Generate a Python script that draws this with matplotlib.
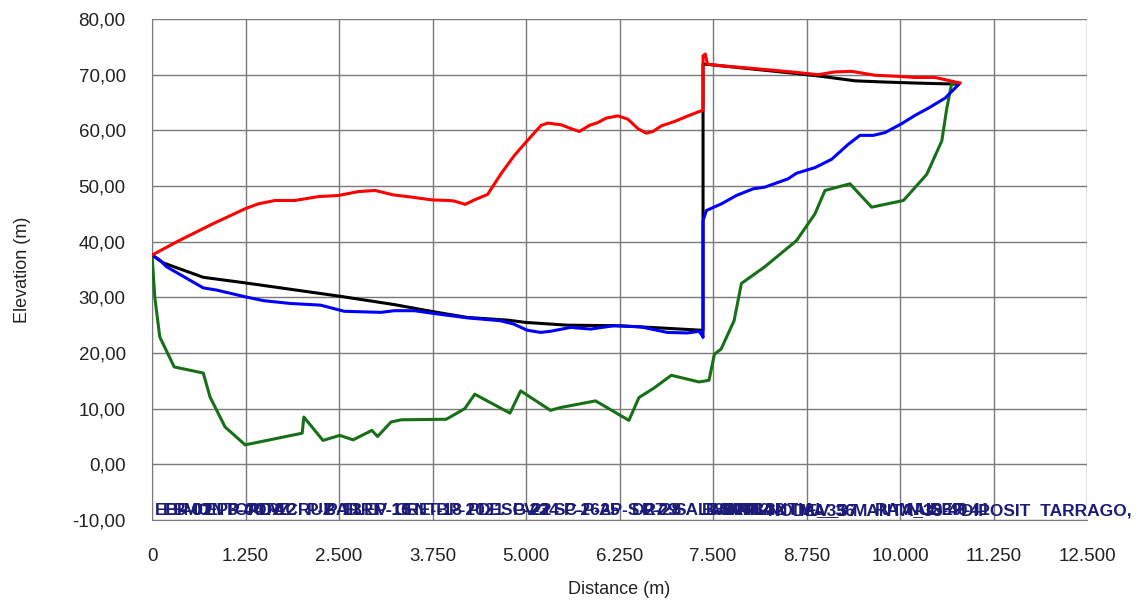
import numpy as np
import matplotlib.pyplot as plt
from matplotlib.ticker import FuncFormatter

plt.rcParams['font.family'] = ['Liberation Sans', 'DejaVu Sans']

# piezometric line (red)
red_d = [0, 348, 795, 1241, 1420, 1643, 1911, 2223, 2491, 2759, 2982, 3227, 3473,
         3741, 3964, 4040, 4187, 4308, 4487, 4665, 4844, 5000, 5201, 5290, 5469,
         5603, 5714, 5848, 5960, 6071, 6228, 6362, 6496, 6607, 6697, 6808, 6987,
         7165, 7299, 7366, 7366, 7397, 7424, 7612, 7969, 8549, 8906, 9129, 9353,
         9531, 9665, 9978, 10201, 10469, 10803]
red_z = [37.6, 40.1, 43.1, 45.9, 46.8, 47.4, 47.4, 48.1, 48.3, 49.0, 49.2, 48.4, 48.0,
         47.5, 47.4, 47.3, 46.7, 47.5, 48.5, 52.2, 55.5, 57.9, 60.9, 61.3, 61.0,
         60.3, 59.8, 60.9, 61.4, 62.2, 62.6, 62.0, 60.3, 59.5, 59.8, 60.8, 61.6,
         62.6, 63.3, 63.6, 73.4, 73.7, 71.9, 71.6, 71.2, 70.5, 70.0, 70.5, 70.6,
         70.2, 69.9, 69.7, 69.5, 69.5, 68.5]

# pipe (black)
blk_d = [0, 148, 685, 1245, 2509, 3239, 3768, 4210, 4762, 4991, 5549, 6241, 6799,
         7335, 7366, 7366, 7388, 7969, 8549, 8951, 9397, 9754, 10201, 10781]
blk_z = [37.6, 36.2, 33.6, 32.6, 30.2, 28.7, 27.4, 26.4, 25.9, 25.5, 25.0, 24.9, 24.5,
         24.1, 24.1, 71.9, 71.9, 71.1, 70.3, 69.7, 68.9, 68.7, 68.5, 68.3]

# hydraulic grade (blue)
blu_d = [0, 103, 193, 685, 865, 1245, 1492, 1850, 2253, 2567, 3060, 3239, 3508,
         3768, 4225, 4656, 4835, 5013, 5192, 5326, 5594, 5862, 6174, 6531, 6888,
         7156, 7312, 7357, 7366, 7366, 7411, 7612, 7812, 8036, 8192, 8504, 8616,
         8862, 9085, 9308, 9464, 9643, 9799, 10022, 10201, 10380, 10603, 10781]
blu_z = [37.6, 36.7, 35.5, 31.7, 31.3, 30.1, 29.4, 28.9, 28.6, 27.5, 27.3, 27.6, 27.6,
         27.1, 26.3, 25.8, 25.2, 24.1, 23.7, 23.9, 24.6, 24.3, 24.9, 24.7, 23.7,
         23.6, 23.9, 23.1, 22.8, 43.8, 45.6, 46.8, 48.3, 49.5, 49.8, 51.3, 52.3,
         53.3, 54.8, 57.5, 59.1, 59.1, 59.6, 61.2, 62.7, 64.0, 65.8, 68.2]

# terrain (green)
grn_d = [0, 36, 103, 296, 685, 775, 977, 1245, 1537, 2007, 2029, 2285, 2509, 2688,
         2939, 3015, 3194, 3329, 3933, 4180, 4314, 4785, 4928, 5326, 5460, 5929,
         6375, 6509, 6710, 6942, 7312, 7446, 7518, 7607, 7781, 7879, 8192, 8616,
         8862, 8996, 9330, 9620, 10045, 10357, 10558, 10625, 10692, 10781]
grn_z = [37.6, 30.1, 22.9, 17.5, 16.4, 12.1, 6.7, 3.5, 4.3, 5.6, 8.5, 4.3, 5.2, 4.4,
         6.1, 5.0, 7.6, 8.0, 8.1, 10.0, 12.6, 9.2, 13.2, 9.7, 10.2, 11.4,
         7.9, 12.0, 13.7, 16.0, 14.8, 15.1, 19.8, 20.7, 25.8, 32.5, 35.5, 40.2,
         45.0, 49.2, 50.4, 46.2, 47.4, 52.1, 58.1, 64.0, 68.5, 68.5]

# node labels along the bottom
node_d = [0, 103, 296, 685, 977, 1245, 1537, 2029, 2285, 2509, 2939, 3194, 3329,
          3933, 4180, 4314, 4785, 4928, 5326, 5460, 5929, 6375, 6509, 6942, 7312,
          7366, 7446, 7607, 7781, 8192, 8616, 8862, 9330, 9620, 10045, 10357, 10781]
node_names = ["EB-MONTCADA", "EB-01", "P-02", "EP3-4ORZ", "P-04", "PC-12", "V-CRUZ",
              "P-BARRI", "P-13", "ELEV-15", "P-16", "CRE-B", "ENT-18", "P-20",
              "P-21", "DESG-22", "P-23", "V-24", "SC-P-25", "P-26", "AP-S-27",
              "DR-28", "P-29", "SAL-30", "B-SAN", "B-SAN2", "MANT-32", "MANANTIAL",
              "N-34", "NODE_35", "MA_36", "V_37", "MANTA_38", "RAMAL-39",
              "NUS-40", "DEP-41", "DIPOSIT  TARRAGO,"]

ytick_vals = np.arange(-10, 81, 10)
xtick_vals = np.arange(0, 12501, 1250)

fig = plt.figure(figsize=(11.45, 6.02), dpi=100)
ax = fig.add_axes([0.1328, 0.1362, 0.8166, 0.8322])

ax.plot(blk_d, blk_z, color='black', lw=2.2, zorder=3)
ax.plot(grn_d, grn_z, color='#177017', lw=2.2, zorder=4)
ax.plot(blu_d, blu_z, color='#0000ff', lw=2.2, zorder=5)
ax.plot(red_d, red_z, color='#ff0000', lw=2.2, zorder=6)

for d, name in zip(node_d, node_names):
    ax.text(d + 40, -8.3, name, color='#1c1c78', fontsize=12.5, fontweight='bold',
            ha='left', va='center', zorder=7, clip_on=False)

ax.set_xlim(0, 12500)
ax.set_ylim(-10, 80)
ax.set_xticks(xtick_vals)
ax.set_yticks(ytick_vals)
ax.xaxis.set_major_formatter(FuncFormatter(lambda v, p: f"{int(v):,}".replace(",", ".")))
ax.yaxis.set_major_formatter(FuncFormatter(lambda v, p: f"{v:.2f}".replace(".", ",")))
ax.tick_params(length=0, labelsize=13.5, colors='#222222')
ax.tick_params(axis='y', pad=19)
ax.tick_params(axis='x', pad=20)
ax.grid(True, color='#7a7a7a', lw=1)
for s in ['top', 'right']:
    ax.spines[s].set_visible(False)
for s in ['left', 'bottom']:
    ax.spines[s].set_color('#7a7a7a')

ax.set_xlabel("Distance (m)", fontsize=13, color='#222222', labelpad=12)
ax.set_ylabel("Elevation (m)", fontsize=13, color='#222222', labelpad=30)

fig.savefig("out.png", dpi=100)
